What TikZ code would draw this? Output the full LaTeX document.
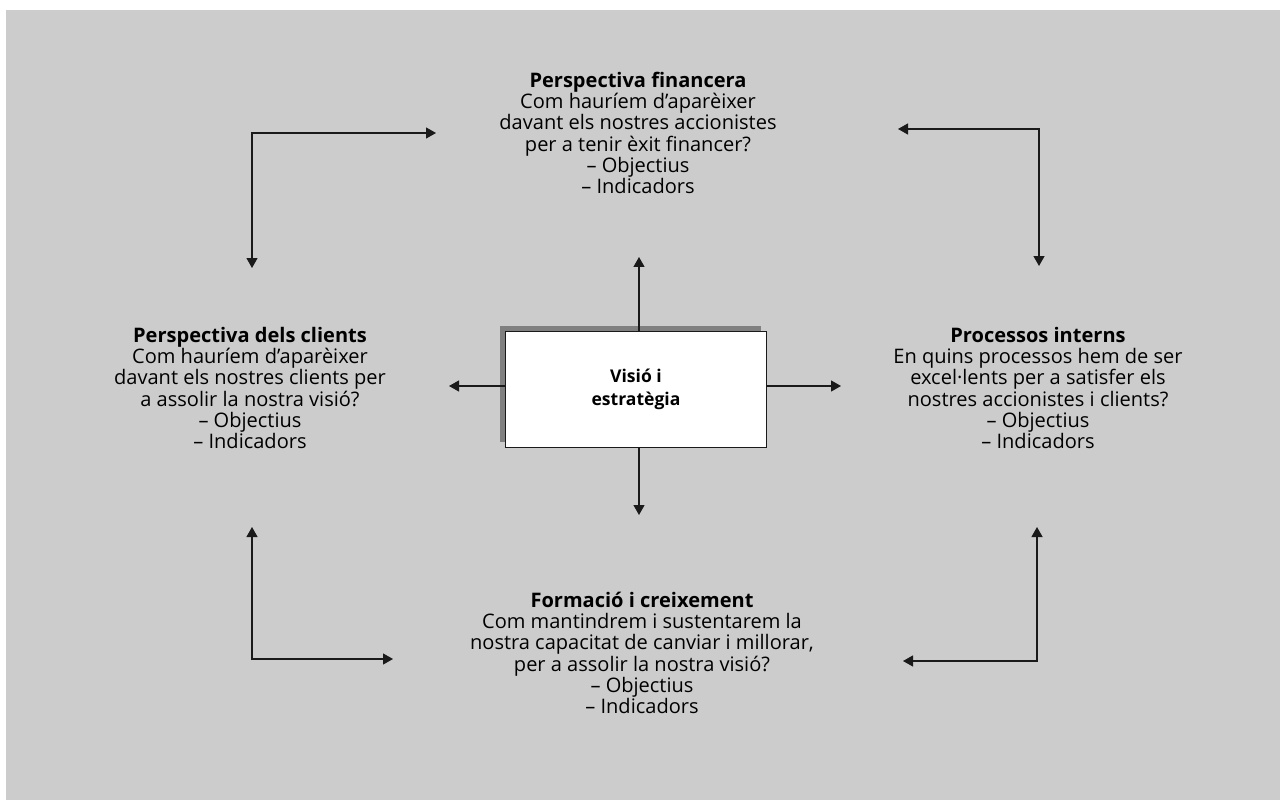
\documentclass[tikz,border=0pt]{standalone}
\usepackage{fontspec}
\setmainfont{Open Sans}
\usepackage{xcolor}
\definecolor{cBack}{HTML}{CCCCCC}
\definecolor{cShade}{HTML}{808080}
\definecolor{cLine}{HTML}{1A1A1A}
\usetikzlibrary{positioning,arrows.meta,shadows}
\tikzset{
  node-box/.style={draw=cLine,line width=0.6pt,fill=white,
    minimum width=5.22cm,minimum height=2.31cm,align=center,
    font=\fontsize{10}{13}\selectfont\bfseries,
    general shadow={fill=cShade,shadow xshift=-0.11cm,shadow yshift=0.11cm}},
  node-text/.style={align=center,inner sep=0pt,
    font=\fontsize{11.4}{12.1}\selectfont},
  arrow/.style={-{Triangle[length=2mm,width=2.2mm]},line width=0.7pt,draw=cLine},
  arrow-both/.style={{Triangle[length=2mm,width=2.2mm]}-{Triangle[length=2mm,width=2.2mm]},
    line width=0.7pt,draw=cLine},
}

\begin{document}
\begin{tikzpicture}[x=0.02cm,y=-0.02cm]
  \useasboundingbox (0,0) rectangle (1280,800);
  \fill[cBack] (6,10) rectangle (1280,800);

  \node[node-box] (vis) at (636,389.5) {Visió i\\estratègia};

  \node[node-text] (fin)  at (638,133) {\textbf{Perspectiva financera}\\
    Com hauríem d’aparèixer\\davant els nostres accionistes\\
    per a tenir èxit financer?\\– Objectius\\– Indicadors};
  \node[node-text] (cli)  at (250,388) {\textbf{Perspectiva dels clients}\\
    Com hauríem d’aparèixer\\davant els nostres clients per\\
    a assolir la nostra visió?\\– Objectius\\– Indicadors};
  \node[node-text] (proc) at (1038,388) {\textbf{Processos interns}\\
    En quins processos hem de ser\\excel·lents per a satisfer els\\
    nostres accionistes i clients?\\– Objectius\\– Indicadors};
  \node[node-text] (form) at (642,653) {\textbf{Formació i creixement}\\
    Com mantindrem i sustentarem la\\nostra capacitat de canviar i millorar,\\
    per a assolir la nostra visió?\\– Objectius\\– Indicadors};

  % extrems lliures de les fletxes
  \coordinate (vis-up)    at (639,257);
  \coordinate (vis-down)  at (639,515);
  \coordinate (vis-left)  at (449,386);
  \coordinate (vis-right) at (841,386);
  \coordinate (tl-a) at (252,268);  \coordinate (tl-b) at (436,133);
  \coordinate (tr-a) at (898,129);  \coordinate (tr-b) at (1039,266);
  \coordinate (bl-a) at (252,527);  \coordinate (bl-b) at (393,659);
  \coordinate (br-a) at (1037,527); \coordinate (br-b) at (903,661);

  \draw[arrow] (vis.north -| vis-up)   -- (vis-up);
  \draw[arrow] (vis.south -| vis-down) -- (vis-down);
  \draw[arrow] (vis.west |- vis-left)  -- (vis-left);
  \draw[arrow] (vis.east |- vis-right) -- (vis-right);

  \draw[arrow-both] (tl-a) |- (tl-b);
  \draw[arrow-both] (tr-a) -| (tr-b);
  \draw[arrow-both] (bl-a) |- (bl-b);
  \draw[arrow-both] (br-a) |- (br-b);
\end{tikzpicture}
\end{document}
